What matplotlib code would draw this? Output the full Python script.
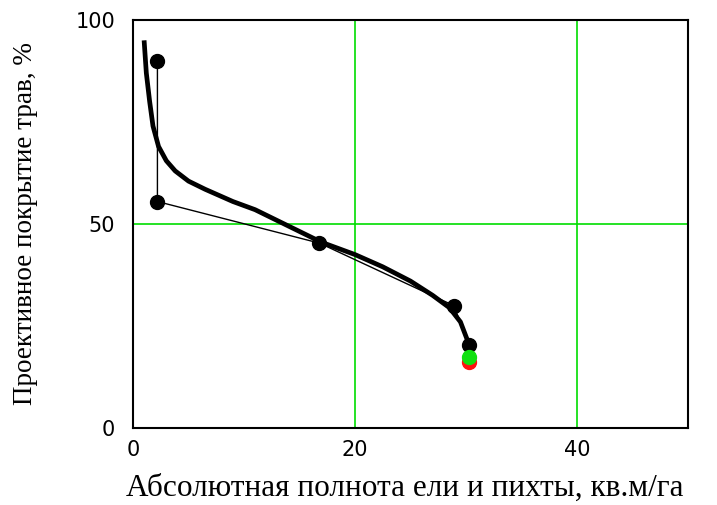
import matplotlib.pyplot as plt

# observed points (thin polyline with markers)
obs_x = [2.2, 2.2, 16.8, 28.9, 30.3]
obs_y = [90, 55.5, 45.3, 30, 20.3]

# fitted curve (thick line)
fit_x = [1.0, 1.2, 1.5, 1.8, 2.3, 3.0, 3.8, 5.0, 6.5, 9.0, 11.0, 14.0, 17.0, 20.0, 22.5, 25.0, 27.0, 28.5, 29.5, 30.3]
fit_y = [95, 87, 80, 74, 69, 65.5, 63, 60.5, 58.5, 55.5, 53.5, 49.5, 45.5, 42.5, 39.5, 36, 32.5, 29.5, 26, 20.3]

# extra single points
green_pt = (30.3, 17.4)
red_pt = (30.3, 16.2)

fig = plt.figure(figsize=(7.17, 5.05), dpi=100)
ax = fig.add_axes([0.1855, 0.1525, 0.774, 0.808])

ax.axvline(20, color='#00dd00', lw=1.2, zorder=0)
ax.axvline(40, color='#00dd00', lw=1.2, zorder=0)
ax.axhline(50, color='#00dd00', lw=1.2, zorder=0)

ax.plot(fit_x, fit_y, color='black', lw=3.4, solid_capstyle='butt')
ax.plot(obs_x, obs_y, color='black', lw=1.0, marker='o', markersize=10)
ax.plot(*red_pt, 'o', color='#ff1010', markersize=10)
ax.plot(*green_pt, 'o', color='#10e010', markersize=10)

ax.set_xlim(0, 50)
ax.set_ylim(0, 100)
ax.set_xticks([0, 20, 40])
ax.set_yticks([0, 50, 100])
ax.tick_params(length=0, labelsize=15)
ax.tick_params(axis='x', pad=9)
ax.tick_params(axis='y', pad=13)
for s in ax.spines.values():
    s.set_linewidth(1.5)

fig.text(405 / 717, 1 - 496 / 505, "Абсолютная полнота ели и пихты, кв.м/га",
         fontsize=22.5, family='Liberation Serif', ha='center', va='baseline')
ax.set_ylabel("Проективное покрытие трав, %", fontsize=19.5,
              family='Liberation Serif', labelpad=27)

fig.savefig("out.png", dpi=100)
